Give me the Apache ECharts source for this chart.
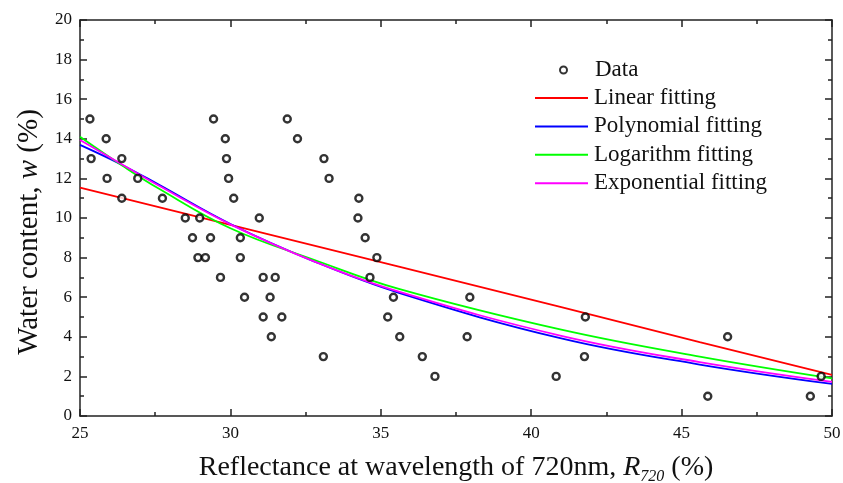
<!DOCTYPE html>
<html>
<head>
<meta charset="utf-8">
<script src="https://cdn.jsdelivr.net/npm/echarts@6/dist/echarts.min.js"></script>
<style>html,body{margin:0;padding:0;background:#fff}#c{width:843px;height:483px}</style>
</head>
<body>
<div id="c"></div>
<script>
// Measured data points (reflectance %, water content %)
const dataX = [25.33,25.87,25.37,26.39,25.9,26.92,26.39,27.74,28.5,28.98,28.74,29.34,28.92,29.17,29.67,29.44,29.83,29.87,29.94,30.11,30.96,30.33,30.33,31.09,31.49,30.47,31.32,31.09,31.71,31.36,33.09,31.89,32.23,33.11,33.28,34.27,34.24,34.48,34.87,34.64,35.42,35.23,35.63,36.38,36.8,37.96,37.87,41.8,41.77,40.83,46.53,45.87,49.28,49.64];
const dataY = [15,14,13,13,12,12,11,11,10,10,9,9,8,8,7,15,14,13,12,11,10,9,8,7,7,6,6,5,5,4,3,15,14,13,12,11,10,9,8,7,6,5,4,3,2,6,4,5,3,2,4,1,1,2];

// Fitted curves
const linX = [25,30,35.6,41,45.6,50];
const linY = [11.53,9.65,7.54,5.5,3.73,2.08];
const fitX = [25,26.4,27.6,30,32.8,35.6,41,45.6,50];
const polyY = [13.69,12.68,11.7,9.7,7.8,6.22,3.92,2.6,1.62];
const logY  = [14.1,12.65,11.5,9.48,7.88,6.42,4.36,3.0,1.9];
const expY  = [13.94,12.7,11.65,9.68,7.8,6.28,4.05,2.72,1.72];

const xTicks = {min:25, max:50, interval:5};
const yTicks = {min:0, max:20, interval:2};

const zip = (xs, ys) => xs.map((x,i)=>[x, ys[i]]);
const FONT = 'Liberation Serif';
const axisCol = '#222';

function axisCfg(pos, showLabel, t, margin){
  return {
    type:'value', position:pos, min:t.min, max:t.max, interval:t.interval,
    axisLine:{show:true, onZero:false, lineStyle:{color:axisCol, width:1.5}},
    axisTick:{show:true, inside:true, length:7, lineStyle:{color:axisCol, width:1.5}},
    minorTick:{show:true, splitNumber:2, length:4, lineStyle:{color:axisCol, width:1.5}},
    splitLine:{show:false},
    axisLabel:{show:showLabel, color:'#111', fontFamily:FONT, fontSize:17, margin:margin}
  };
}

const xa0 = axisCfg('bottom', true, xTicks, 9);
xa0.name = '{a|Reflectance at wavelength of 720nm, }{i|R}{s|720}{a| (%)}';
xa0.nameLocation = 'middle';
xa0.nameGap = 35;
xa0.nameTextStyle = {
  color:'#111', fontFamily:FONT,
  rich:{
    a:{fontFamily:FONT, fontSize:28, color:'#111', lineHeight:34},
    i:{fontFamily:FONT, fontSize:28, fontStyle:'italic', color:'#111', lineHeight:34},
    s:{fontFamily:FONT, fontSize:16, fontStyle:'italic', color:'#111', lineHeight:16, verticalAlign:'bottom'}
  }
};
const xa1 = axisCfg('top', false, xTicks, 8);

const ya0 = axisCfg('left', true, yTicks, 8);
ya0.name = '{a|Water content, }{i|w}{a| (%)}';
ya0.nameLocation = 'middle';
ya0.nameGap = 36;
ya0.nameRotate = 90;
ya0.nameTextStyle = {
  color:'#111', fontFamily:FONT, padding:[0,28,0,0],
  rich:{
    a:{fontFamily:FONT, fontSize:29, color:'#111'},
    i:{fontFamily:FONT, fontSize:29, fontStyle:'italic', color:'#111'}
  }
};
const ya1 = axisCfg('right', false, yTicks, 8);

const lineSeries = (name, pts, color, smooth) => ({
  name, type:'line', data:pts, symbol:'none', smooth:smooth,
  lineStyle:{color, width:1.8}, itemStyle:{color}, z:3
});

const option = {
  animation:false,
  backgroundColor:'#fff',
  grid:{left:80, right:11, top:20, bottom:67, containLabel:false, outerBoundsMode:'none'},
  xAxis:[xa0, xa1],
  yAxis:[ya0, ya1],
  legend:[
    {
      data:[{name:'Data', icon:'circle', itemStyle:{color:'#fff', borderColor:'#000', borderWidth:2}}],
      orient:'vertical', left:559, top:58.5, padding:0,
      itemWidth:7, itemHeight:7,
      textStyle:{fontFamily:FONT, fontSize:23, color:'#111', padding:[0,0,0,23]}
    },
    {
      data:['Linear fitting','Polynomial fitting','Logarithm fitting','Exponential fitting'],
      orient:'vertical', left:535, top:86.5, padding:0, icon:'rect', itemWidth:53, itemHeight:2, itemGap:5.4,
      textStyle:{fontFamily:FONT, fontSize:23, color:'#111', padding:[0,0,0,1]}
    }
  ],
  series:[
    lineSeries('Linear fitting', zip(linX, linY), '#ff0000', false),
    lineSeries('Polynomial fitting', zip(fitX, polyY), '#0000ff', 0.4),
    lineSeries('Logarithm fitting', zip(fitX, logY), '#00ff00', 0.4),
    lineSeries('Exponential fitting', zip(fitX, expY), '#ff00ff', 0.4),
    {
      name:'Data', type:'scatter', data:zip(dataX, dataY), symbol:'circle', symbolSize:7,
      itemStyle:{color:'#fff', borderColor:'#000', borderWidth:2.4}, z:5
    }
  ]
};

const chart = echarts.init(document.getElementById('c'), null, {renderer:'canvas'});
chart.setOption(option);
</script>
</body>
</html>
